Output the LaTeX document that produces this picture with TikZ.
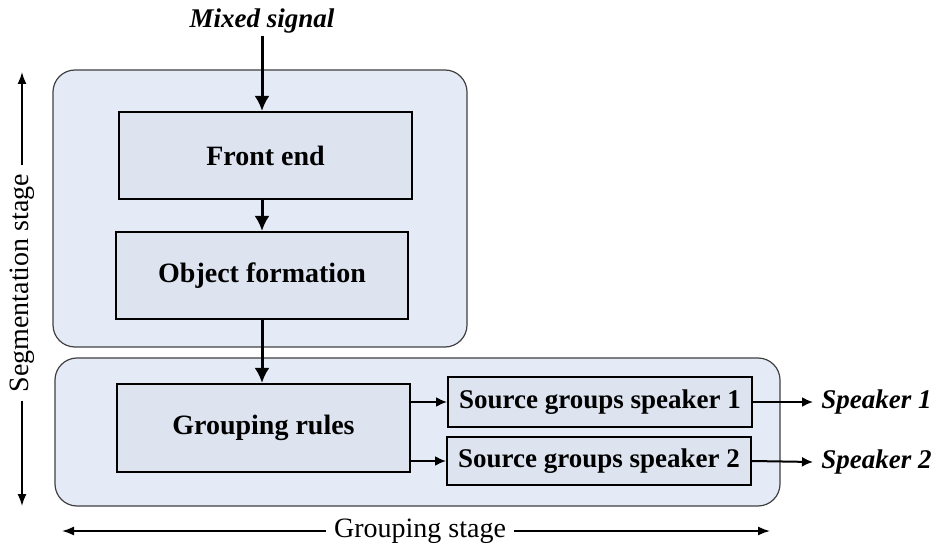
\documentclass[tikz,border=0pt]{standalone}
\usepackage{fontspec}
\setmainfont{Liberation Serif}
\usetikzlibrary{arrows.meta,positioning,calc}
\definecolor{stagefill}{RGB}{229,235,246}
\definecolor{blockfill}{RGB}{221,228,240}

\begin{document}
\begin{tikzpicture}[x=0.5pt,y=-0.5pt,
    stagebox/.style={draw=black!75, fill=stagefill, rounded corners=11pt, line width=0.6pt},
    block/.style={draw, fill=blockfill, line width=1pt, font=\fontsize{14}{16}\selectfont\bfseries},
    source/.style={block, font=\fontsize{13.5}{16}\selectfont\bfseries},
    io/.style={inner sep=1pt, font=\fontsize{13.5}{16}\selectfont\bfseries\itshape},
    flow/.style={-{Latex[length=7.5pt,width=7.5pt]}, line width=1.5pt},
    side/.style={-{Latex[length=5.5pt,width=5pt]}, line width=1pt},
    span/.style={-{Latex[length=6pt,width=4.5pt]}, line width=0.8pt},
    label/.style={font=\fontsize{14}{16}\selectfont, inner sep=4pt}]
    \useasboundingbox (0,0) rectangle (932,545);

    \node (segment) [stagebox, minimum width=207pt, minimum height=138.5pt] at (260,208.5) {};
    \node (grouping) [stagebox, minimum width=362.5pt, minimum height=74pt] at (417.5,432) {};

    \node (mixed) [io] at (262,21) {Mixed signal};
    \node (frontend) [block, minimum width=146.5pt, minimum height=43.5pt] at (265.5,155.5) {Front end};
    \node (objform) [block, minimum width=146pt, minimum height=43.5pt] at (262,275.5) {Object formation};
    \node (rules) [block, minimum width=146.5pt, minimum height=44pt] at (263.5,428) {Grouping rules};
    \node (src1) [source, minimum width=152pt, minimum height=25pt] at (600,402) {Source groups speaker 1};
    \node (src2) [source, minimum width=152pt, minimum height=24pt] at (599,461) {Source groups speaker 2};
    \node (spk1) [io, inner sep=4pt, anchor=west] at (813,402) {Speaker 1};
    \node (spk2) [io, inner sep=4pt, anchor=west] at (813,462) {Speaker 2};

    \draw [flow] (mixed.south) -- (mixed.south |- frontend.north);
    \draw [flow] (objform.north |- frontend.south) -- (objform.north);
    \draw [flow] (objform.south) -- (objform.south |- rules.north);
    \draw [side] (rules.east |- src1.west) -- (src1.west);
    \draw [side] (rules.east |- src2.west) -- (src2.west);
    \draw [side] (src1.east) -- (spk1.west);
    \draw [side] (src2.east) -- (spk2.west);

    % stage markers
    \node (segtext) [label, rotate=90] at (22,283) {Segmentation stage};
    \coordinate (segtop) at (22,72);
    \coordinate (segbot) at (22,506);
    \draw [span] (segtext.east) -- (segtop);
    \draw [span] (segtext.west) -- (segbot);

    \node (grptext) [label] at (420,531) {Grouping stage};
    \coordinate (grpleft) at (62,531);
    \coordinate (grpright) at (770,531);
    \draw [span] (grptext.west) -- (grpleft);
    \draw [span] (grptext.east) -- (grpright);
\end{tikzpicture}
\end{document}
